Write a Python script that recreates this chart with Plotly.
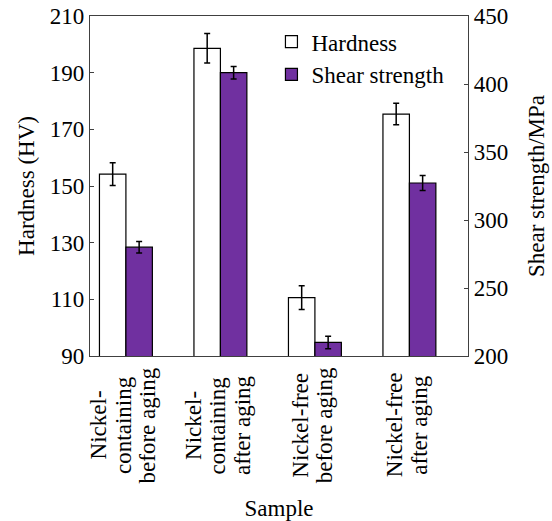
import plotly.graph_objects as go

category_lines = [["Nickel-", "containing", "before aging"],
                  ["Nickel-", "containing", "after aging"],
                  ["Nickel-free", "before aging"],
                  ["Nickel-free", "after aging"]]
positions = [0, 1, 2, 3]
hardness = [154.2, 198.6, 110.6, 175.4]
hardness_err = [4.0, 5.2, 4.2, 3.8]
shear = [280.0, 408.3, 210.0, 327.2]
shear_err = [4.2, 4.6, 4.6, 5.5]
left_ticks = [90, 110, 130, 150, 170, 190, 210]
right_ticks = [200, 250, 300, 350, 400, 450]

FONT = "Liberation Serif"
FS = 23
PURPLE = "#7030A0"
AX = "#404040"
LINE_GAP = 24.5

fig = go.Figure()
fig.add_trace(go.Bar(
    x=positions, y=hardness, name="Hardness", yaxis="y",
    width=0.28, offset=-0.28,
    marker=dict(color="white", line=dict(color="black", width=1.2)),
    error_y=dict(type="data", array=hardness_err, color="black", thickness=1.5, width=3),
))
fig.add_trace(go.Bar(
    x=positions, y=shear, name="Shear strength", yaxis="y2",
    width=0.28, offset=0,
    marker=dict(color=PURPLE, line=dict(color="black", width=1.2)),
    error_y=dict(type="data", array=shear_err, color="black", thickness=1.5, width=3),
))

annotations = []
for pos, lines in zip(positions, category_lines):
    n = len(lines)
    for i, line in enumerate(lines):
        annotations.append(dict(
            x=pos, xref="x", y=0, yref="paper",
            text=line, showarrow=False, textangle=-90,
            xanchor="center", yanchor="middle",
            xshift=(i - (n - 1) / 2) * LINE_GAP - 3, yshift=-69,
            font=dict(family=FONT, size=FS, color="black"),
        ))

tfont = dict(family=FONT, size=FS, color="black")
fig.update_layout(
    width=552, height=521,
    margin=dict(l=90, r=84, t=16, b=165, autoexpand=False),
    paper_bgcolor="white", plot_bgcolor="white",
    font=tfont,
    showlegend=True,
    legend=dict(x=0.48, y=0.988, xanchor="left", yanchor="top",
                bgcolor="rgba(0,0,0,0)", font=tfont, tracegroupgap=0),
    annotations=annotations,
    xaxis=dict(range=[-0.38, 3.62], tickvals=positions, showticklabels=False,
               showline=True, linecolor=AX, linewidth=1.2, automargin=False,
               mirror=True, ticks="", showgrid=False, zeroline=False,
               title=dict(text="Sample", standoff=155, font=tfont)),
    yaxis=dict(range=[90, 210], tickvals=left_ticks, showline=True,
               linecolor=AX, linewidth=1.2, ticks="inside", ticklen=4,
               tickcolor=AX, showgrid=False, zeroline=False, tickfont=tfont,
               automargin=False,
               title=dict(text="Hardness (HV)", standoff=8, font=tfont)),
    yaxis2=dict(range=[200, 450], tickvals=right_ticks, overlaying="y",
                side="right", showline=True, linecolor=AX, linewidth=1.2,
                ticks="inside", ticklen=4, tickcolor=AX, showgrid=False,
                zeroline=False, tickfont=tfont, automargin=False,
                title=dict(text="Shear strength/MPa", standoff=20, font=tfont)),
)

fig.write_html("out.html")
